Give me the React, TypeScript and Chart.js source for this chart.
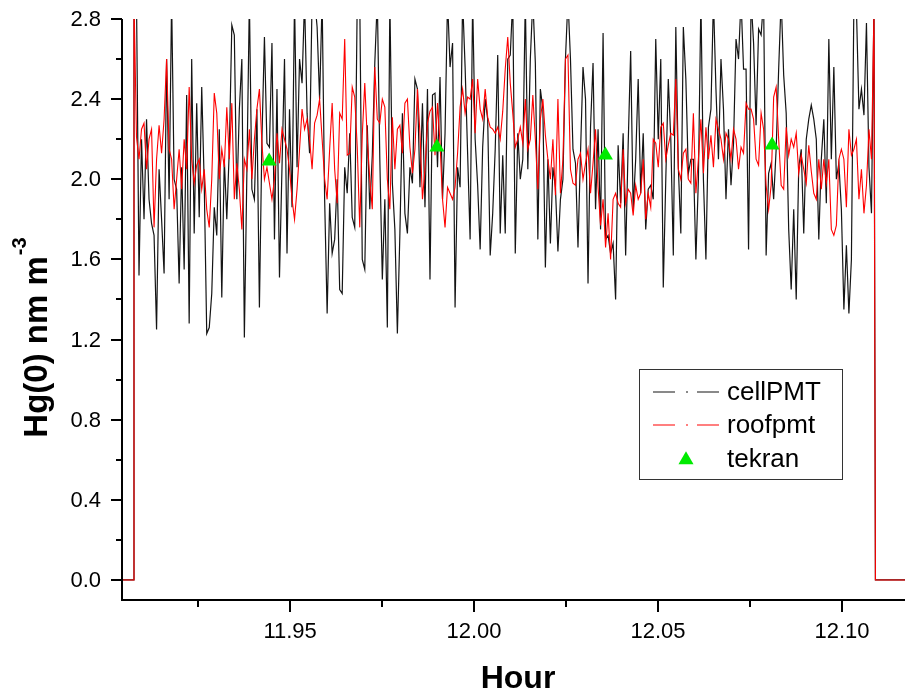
import React, { useEffect, useRef } from "react";
import { Chart, registerables } from "chart.js";
Chart.register(...registerables);

// sampling window of the two PMT series (hours)
const sampleStart = 11.90756;
const sampleEnd = 12.10871;
const leadHours = [11.9, 11.9075];
const trailHours = [12.1091, 12.125];
const offValues = [0, 0];

const cellPMT = [
  2.95, 2.9, 1.52, 2.2, 1.8, 2.3, 1.9, 1.78, 1.72, 1.25,
  2.05, 1.8, 1.53, 2.6, 1.9, 2.9, 2.0, 1.95, 1.48, 2.06,
  1.55, 2.42, 1.28, 2.6, 1.73, 2.38, 1.81, 2.46, 1.98, 1.23,
  1.26, 1.43, 1.86, 1.72, 2.25, 1.41, 2.1, 1.8, 2.15, 2.77,
  2.72, 1.9, 2.35, 2.6, 1.21, 2.03, 2.9, 1.95, 1.9, 2.35,
  1.36, 2.2, 2.71, 2.18, 2.16, 2.68, 1.7, 2.45, 1.51, 2.06,
  2.6, 1.63, 2.35, 1.86, 2.9, 2.06, 2.6, 2.48, 2.9, 2.33,
  2.13, 2.9, 2.9, 2.76,
  2.4, 2.9, 1.9, 1.33, 1.88, 1.63, 1.7, 2.0, 1.45, 1.43,
  2.06, 1.93, 2.23, 1.81, 1.76, 2.9, 2.9, 1.6, 1.55, 2.27,
  1.85, 2.12, 2.58, 2.9, 2.1, 1.5, 1.9, 1.26, 2.9, 1.98,
  1.75, 1.23, 1.73, 2.33, 1.83, 1.73, 2.06, 1.98, 2.5, 2.45,
  1.96, 2.38, 1.86, 2.45, 1.5, 2.42, 2.43, 2.06, 2.51, 1.9,
  2.23, 2.9, 2.56, 2.68, 1.36, 2.06, 1.96, 2.9, 2.56, 2.13,
  1.7, 2.9, 2.2, 1.97, 1.65, 2.16, 2.4, 2.3, 1.62, 1.83,
  2.15, 2.62, 1.73, 2.12, 1.73, 2.6, 2.62, 2.9, 1.63, 2.23,
  2.0, 2.1, 2.9, 2.05, 2.6, 2.9, 2.58, 1.7, 2.45, 2.35,
  1.56, 2.1, 1.68, 2.06, 1.96, 1.64, 1.9, 2.0, 2.6, 2.9,
  2.6, 2.15, 2.08, 1.66, 2.13, 2.56, 2.4, 1.48, 2.26, 2.58,
  1.85, 2.25, 1.75, 2.73, 1.7, 1.72, 1.63, 1.68, 1.4, 2.17,
  1.88, 2.23, 1.62, 2.17, 2.64, 1.85, 2.1, 2.5, 1.93, 2.23,
  1.75, 1.95, 1.97, 1.9, 2.7, 2.2, 2.6, 1.46, 2.0, 2.5,
  2.2, 1.62, 2.76, 2.06, 1.73, 2.76, 2.5, 2.03, 2.1, 2.1,
  1.6, 2.0, 2.9, 2.0, 1.6, 2.26, 2.35, 2.9, 2.45, 2.1,
  2.6, 2.35, 1.9, 2.25, 1.97, 2.18, 2.7, 2.6, 2.9, 2.55,
  2.55, 1.65, 2.9, 2.68, 2.27, 2.75, 2.72, 2.9, 1.62, 2.03,
  2.08, 1.9, 2.15, 2.55, 2.9, 2.52, 2.33, 1.75, 1.45, 1.85,
  1.4, 2.06, 2.15, 1.73, 2.2, 2.3, 2.37, 2.3, 2.2, 1.7,
  2.1, 2.3, 1.88, 2.7, 2.1, 2.56, 2.0, 2.08, 1.85, 1.35,
  1.67, 1.33, 1.6, 2.9, 2.85, 2.35, 2.45, 2.32, 2.78, 2.06,
  1.83, 2.9,
];

const roofpmt = [
  2.9, 2.21, 2.1, 2.25, 2.28, 2.05, 2.2, 2.25, 1.76, 2.1,
  2.27, 2.13, 2.3, 2.6, 2.15, 2.1, 1.85, 2.0, 2.15, 1.95,
  2.2, 2.05, 2.46, 2.1, 1.98, 2.07, 2.1, 1.95, 2.05, 1.85,
  1.76, 2.0, 2.43, 2.33, 2.0, 2.15, 2.06, 2.36, 2.1, 2.38,
  1.9, 2.08, 1.95, 1.75, 2.1, 2.05, 2.25, 2.0, 2.2, 2.35,
  2.45, 2.18, 2.0, 2.06, 1.98, 1.9, 2.0, 2.23, 2.08, 2.25,
  2.2, 2.15, 2.05, 1.9, 1.8, 1.95, 2.15, 2.35, 2.25, 2.3,
  2.2, 2.05, 2.28, 2.32,
  2.4, 2.2, 2.0, 1.9, 2.15, 2.38, 2.05, 1.88, 2.33, 2.3,
  2.7, 2.12, 2.13, 2.46, 2.41, 2.16, 1.76, 2.22, 2.48, 2.2,
  2.0, 1.85, 2.56, 2.3, 2.28, 2.4, 2.36, 2.0, 1.85, 2.31,
  2.05, 2.25, 2.27, 2.13, 2.38, 2.4, 2.16, 2.03, 2.15, 2.45,
  2.23, 1.9, 2.05, 2.28, 2.34, 2.36, 2.12, 2.38, 2.18, 1.9,
  1.76, 1.96, 1.93, 1.9, 1.96, 2.13, 2.36, 2.45, 2.33, 2.41,
  2.4, 2.5, 2.23, 2.5, 2.35, 2.3, 2.45, 2.31, 2.26, 2.25,
  2.23, 2.26, 2.2, 2.34, 2.55, 2.71, 2.48, 2.33, 2.16, 2.2,
  2.26, 2.18, 2.4, 2.15, 2.2, 2.42, 2.2, 1.95, 2.3, 2.4,
  2.22, 2.1, 2.0, 2.2, 1.92, 2.4, 1.93, 2.1, 2.6, 2.62,
  2.05, 1.98, 1.97, 2.1, 2.13, 2.0, 2.08, 2.15, 1.93, 2.08,
  2.25, 1.96, 1.77, 1.9, 1.66, 1.83, 1.6, 1.9, 1.93, 1.88,
  1.86, 2.15, 1.88, 1.95, 1.93, 1.82, 1.97, 1.9, 1.93, 2.1,
  1.8, 1.93, 1.86, 2.2, 2.18, 2.06, 2.26, 2.28, 2.1, 2.17,
  2.23, 2.22, 2.5, 2.05, 2.0, 2.13, 2.15, 2.0, 1.98, 2.33,
  1.93, 2.1, 2.3, 2.03, 2.26, 2.1, 2.22, 2.06, 2.3, 2.25,
  2.2, 2.1, 2.23, 2.2, 2.1, 2.25, 2.2, 2.05, 2.16, 2.13,
  2.38, 2.35, 2.35, 2.3, 2.1, 2.07, 2.33, 2.25, 1.97, 1.85,
  1.97, 2.41, 2.46, 2.2, 1.97, 1.95, 2.26, 2.12, 2.2, 2.16,
  2.23, 2.03, 2.12, 2.05, 1.98, 2.17, 2.04, 1.93, 1.9, 2.1,
  1.95, 2.1, 1.98, 2.1, 1.75, 1.72, 1.77, 2.1, 2.15, 2.1,
  1.86, 2.25, 2.12, 2.15, 2.2, 1.9, 2.05, 1.83, 1.97, 2.25,
  2.1, 2.85,
];

const tekranHours = [11.9443, 11.9899, 12.0357, 12.081];
const tekranValues = [2.09, 2.16, 2.12, 2.17];

const yMajorTicks = [0, 0.4, 0.8, 1.2, 1.6, 2.0, 2.4, 2.8];
const yMinorTicks = [0.2, 0.6, 1.0, 1.4, 1.8, 2.2, 2.6];
const xMajorTicks = [11.95, 12.0, 12.05, 12.1];
const xMinorTicks = [11.925, 11.975, 12.025, 12.075];

const legendLabels = ["cellPMT", "roofpmt", "tekran"];
const FONT = '"Liberation Sans", Arial, Helvetica, sans-serif';
const BLACK_LINE = "rgba(0,0,0,0.92)";
const RED_LINE = "rgb(255,0,0)";
const GREEN = "rgb(0,235,0)";

function buildSeries(values: number[]) {
  const n = values.length;
  const step = (sampleEnd - sampleStart) / (n - 1);
  const pts: { x: number; y: number }[] = [];
  leadHours.forEach((h, i) => pts.push({ x: h, y: offValues[i] }));
  values.forEach((v, i) => pts.push({ x: sampleStart + i * step, y: v }));
  trailHours.forEach((h, i) => pts.push({ x: h, y: offValues[i] }));
  return pts;
}

function drawTriangle(ctx: CanvasRenderingContext2D, x: number, y: number, r: number) {
  ctx.beginPath();
  for (let k = 0; k < 3; k++) {
    const a = (k * 2 * Math.PI) / 3;
    const px = x + Math.sin(a) * r;
    const py = y - Math.cos(a) * r;
    if (k === 0) ctx.moveTo(px, py);
    else ctx.lineTo(px, py);
  }
  ctx.closePath();
  ctx.fill();
}

const decorPlugin = {
  id: "decor",
  afterDraw(chart: any) {
    const ctx: CanvasRenderingContext2D = chart.ctx;
    const xs = chart.scales.x;
    const ys = chart.scales.y;
    const area = chart.chartArea;
    ctx.save();
    ctx.strokeStyle = "#000";
    ctx.lineWidth = 2;
    // axis lines
    ctx.beginPath();
    ctx.moveTo(area.left, area.top);
    ctx.lineTo(area.left, area.bottom + 1);
    ctx.moveTo(area.left - 1, area.bottom);
    ctx.lineTo(area.right, area.bottom);
    ctx.stroke();
    // tick marks
    ctx.beginPath();
    yMajorTicks.forEach((v) => {
      const p = Math.round(ys.getPixelForValue(v));
      ctx.moveTo(area.left - 11, p);
      ctx.lineTo(area.left, p);
    });
    yMinorTicks.forEach((v) => {
      const p = Math.round(ys.getPixelForValue(v));
      ctx.moveTo(area.left - 6, p);
      ctx.lineTo(area.left, p);
    });
    xMajorTicks.forEach((v) => {
      const p = Math.round(xs.getPixelForValue(v));
      ctx.moveTo(p, area.bottom);
      ctx.lineTo(p, area.bottom + 12);
    });
    xMinorTicks.forEach((v) => {
      const p = Math.round(xs.getPixelForValue(v));
      ctx.moveTo(p, area.bottom);
      ctx.lineTo(p, area.bottom + 7);
    });
    ctx.stroke();

    // tick labels
    ctx.fillStyle = "#000";
    ctx.font = `22px ${FONT}`;
    ctx.textAlign = "right";
    ctx.textBaseline = "middle";
    yMajorTicks.forEach((v) => {
      ctx.fillText(v.toFixed(1), area.left - 21, ys.getPixelForValue(v) + 1);
    });
    ctx.textAlign = "center";
    ctx.textBaseline = "alphabetic";
    xMajorTicks.forEach((v) => {
      ctx.fillText(v.toFixed(2), xs.getPixelForValue(v), area.bottom + 38);
    });

    // x title
    ctx.font = `bold 32px ${FONT}`;
    ctx.textAlign = "center";
    ctx.fillText("Hour", 518, 688);

    // y title with superscript
    ctx.save();
    ctx.translate(47, 338);
    ctx.rotate(-Math.PI / 2);
    const main = "Hg(0) nm m";
    const sup = "-3";
    ctx.font = `bold 33px ${FONT}`;
    const wMain = ctx.measureText(main).width;
    ctx.font = `bold 20px ${FONT}`;
    const wSup = ctx.measureText(sup).width;
    const start = -(wMain + wSup) / 2;
    ctx.textAlign = "left";
    ctx.font = `bold 33px ${FONT}`;
    ctx.fillText(main, start, 0);
    ctx.font = `bold 20px ${FONT}`;
    ctx.fillText(sup, start + wMain + 1, -21);
    ctx.restore();

    // legend
    ctx.lineWidth = 1;
    ctx.strokeStyle = "#333";
    ctx.strokeRect(639.5, 369.5, 203, 110);
    const rowsLine = [392, 425];
    const colors = [BLACK_LINE, RED_LINE];
    rowsLine.forEach((y, i) => {
      ctx.strokeStyle = colors[i];
      ctx.lineWidth = 1.2;
      ctx.beginPath();
      ctx.moveTo(653, y);
      ctx.lineTo(675, y);
      ctx.moveTo(686, y);
      ctx.lineTo(688, y);
      ctx.moveTo(697, y);
      ctx.lineTo(719, y);
      ctx.stroke();
    });
    ctx.fillStyle = GREEN;
    drawTriangle(ctx, 686, 460, 8.7);
    ctx.fillStyle = "#000";
    ctx.font = `26px ${FONT}`;
    ctx.textAlign = "left";
    ctx.textBaseline = "alphabetic";
    const baselines = [400, 433, 467];
    legendLabels.forEach((t, i) => ctx.fillText(t, 727, baselines[i]));
    ctx.restore();
  },
};

export default function App() {
  const ref = useRef<HTMLCanvasElement | null>(null);
  useEffect(() => {
    if (!ref.current) return;
    const chart = new Chart(ref.current, {
      type: "line",
      data: {
        datasets: [
          {
            label: legendLabels[2],
            data: tekranHours.map((h, i) => ({ x: h, y: tekranValues[i] })),
            showLine: false,
            pointStyle: "triangle",
            pointRadius: 8.7,
            pointBackgroundColor: GREEN,
            pointBorderWidth: 0,
            borderColor: GREEN,
            backgroundColor: GREEN,
            order: 0,
          },
          {
            label: legendLabels[1],
            data: buildSeries(roofpmt),
            borderColor: RED_LINE,
            borderWidth: 1.1,
            pointRadius: 0,
            tension: 0,
            fill: false,
            order: 1,
          },
          {
            label: legendLabels[0],
            data: buildSeries(cellPMT),
            borderColor: BLACK_LINE,
            borderWidth: 1.2,
            pointRadius: 0,
            tension: 0,
            fill: false,
            order: 2,
          },
        ],
      },
      options: {
        animation: false,
        responsive: false,
        devicePixelRatio: 1,
        layout: { autoPadding: false, padding: { top: 19, right: 0, left: 0, bottom: 0 } },
        plugins: {
          legend: { display: false },
          tooltip: { enabled: false },
          title: { display: false },
        },
        scales: {
          x: {
            type: "linear",
            min: 11.9043,
            max: 12.11714,
            grid: { display: false, drawTicks: false },
            border: { display: false },
            ticks: { display: false },
            afterFit: (s: any) => {
              s.height = 95;
              s.paddingLeft = 0;
              s.paddingRight = 0;
            },
          },
          y: {
            type: "linear",
            min: -0.1,
            max: 2.8,
            grid: { display: false, drawTicks: false },
            border: { display: false },
            ticks: { display: false },
            afterFit: (s: any) => {
              s.width = 122;
              s.paddingTop = 0;
              s.paddingBottom = 0;
            },
          },
        },
      },
      plugins: [decorPlugin],
    });
    return () => chart.destroy();
  }, []);
  return (
    <div style={{ position: "absolute", left: 0, top: 0, width: 905, height: 695, background: "#fff" }}>
      <canvas ref={ref} width={905} height={695} style={{ display: "block" }} />
    </div>
  );
}
